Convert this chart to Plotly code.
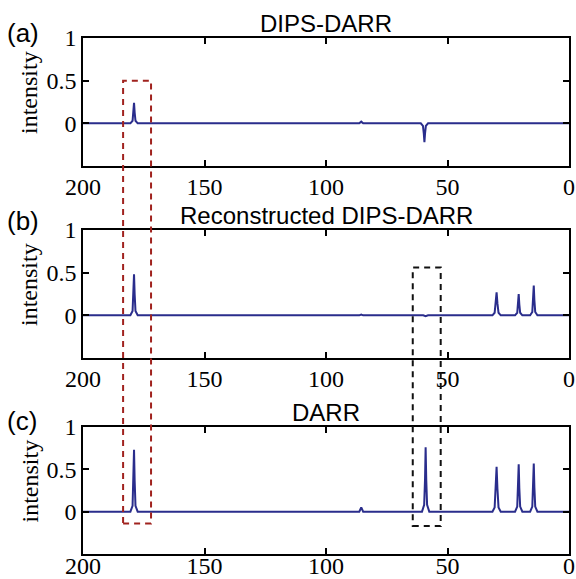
import plotly.graph_objects as go

# ---------------- data ----------------
panel_labels = ["(a)", "(b)", "(c)"]
panel_titles = ["DIPS-DARR", "Reconstructed DIPS-DARR", "DARR"]

x_a = [200, 180.5, 179.6, 179.25, 179, 178.75, 178.4, 177.5, 86.3, 85.5, 84.7,
       61, 60.1, 59.75, 59.5, 59.25, 58.9, 58, 0]
y_a = [0, 0, 0.03, 0.13, 0.24, 0.13, 0.03, 0, 0, 0.02, 0,
       0, -0.03, -0.12, -0.22, -0.12, -0.03, 0, 0]

x_b = [200, 180.5, 179.6, 179.25, 179, 178.75, 178.4, 177.5, 86.3, 85.5, 84.7,
       60, 59, 58,
       31.5, 30.6, 30.15, 29.8, 29.45, 29.0, 28.1,
       22.2, 21.3, 20.95, 20.7, 20.45, 20.1, 19.2,
       16, 15.1, 14.75, 14.5, 14.25, 13.9, 13, 0]
y_b = [0, 0, 0.05, 0.25, 0.48, 0.25, 0.05, 0, 0, 0.01, 0,
       0, -0.01, 0,
       0, 0.03, 0.14, 0.27, 0.14, 0.03, 0,
       0, 0.03, 0.13, 0.25, 0.13, 0.03, 0,
       0, 0.04, 0.18, 0.35, 0.18, 0.04, 0, 0]

x_c = [200, 180.5, 179.6, 179.25, 179, 178.75, 178.4, 177.5, 86.3, 85.5, 84.7,
       60.5, 59.6, 59.25, 59, 58.75, 58.4, 57.5,
       31.5, 30.6, 30.15, 29.8, 29.45, 29.0, 28.1,
       22.2, 21.3, 20.95, 20.7, 20.45, 20.1, 19.2,
       16, 15.1, 14.75, 14.5, 14.25, 13.9, 13, 0]
y_c = [0, 0, 0.07, 0.37, 0.73, 0.37, 0.07, 0, 0, 0.05, 0,
       0, 0.08, 0.38, 0.76, 0.38, 0.08, 0,
       0, 0.05, 0.27, 0.53, 0.27, 0.05, 0,
       0, 0.06, 0.28, 0.56, 0.28, 0.06, 0,
       0, 0.06, 0.29, 0.57, 0.29, 0.06, 0, 0]

x_ticks = [200, 150, 100, 50, 0]
x_ticktext = ["200", "150", "100", "50", "0"]
y_ticks = [0, 0.5, 1]
y_ticktext = ["0", "0.5", "1"]

# dashed boxes: ppm span, top value in its panel, bottom value in panel (c)
red_box_x = [183.5, 172.0]
red_box_y = [0.5, -0.14]      # top in (a), bottom in (c)
black_box_x = [64.3, 52.8]
black_box_y = [0.56, -0.17]   # top in (b), bottom in (c)

# ---------------- figure ----------------
W, H = 576, 579
ML, MR, MT, MB = 83, 7, 38, 25
plot_w = W - ML - MR
plot_h = H - MT - MB

def px_to_paper_y(py):
    return (H - MB - py) / plot_h

domains = [
    [px_to_paper_y(166), px_to_paper_y(38)],
    [px_to_paper_y(358), px_to_paper_y(230)],
    [px_to_paper_y(554), px_to_paper_y(427)],
]
YR = [-0.5, 1.0]

def val_to_paper(v, dom):
    return dom[0] + (v - YR[0]) / (YR[1] - YR[0]) * (dom[1] - dom[0])

line_color = "#2A2D8C"
fig = go.Figure()
xs = [x_a, x_b, x_c]
ys = [y_a, y_b, y_c]
serif = "Times New Roman, Liberation Serif, serif"
sans = "Arial, Liberation Sans, sans-serif"
x_standoff = [-2, -2, -11]

def serif_text(t):
    return '<span style="font-family:Times New Roman, Liberation Serif, serif">' + t + '</span>'

layout = dict(
    width=W, height=H,
    margin=dict(l=ML, r=MR, t=MT, b=MB, autoexpand=False),
    paper_bgcolor="white", plot_bgcolor="white",
    showlegend=False,
    font=dict(family=serif, size=24, color="black"),
)
for i in range(3):
    n = "" if i == 0 else str(i + 1)
    fig.add_trace(go.Scatter(x=xs[i], y=ys[i], mode="lines",
                             line=dict(color=line_color, width=2),
                             xaxis="x" + n, yaxis="y" + n, hoverinfo="skip"))
    layout["xaxis" + n] = dict(
        domain=[0, 1], anchor="y" + n, range=[200, 0], automargin=False,
        tickvals=x_ticks, ticktext=[serif_text(t) for t in x_ticktext],
        ticks="inside", ticklen=6, tickwidth=1.5, tickcolor="black",
        showline=True, linecolor="black", linewidth=1.5, mirror="ticks",
        showgrid=False, zeroline=False, ticklabelstandoff=x_standoff[i],
        tickfont=dict(family=serif, size=24, color="black"),
    )
    layout["yaxis" + n] = dict(
        domain=domains[i], anchor="x" + n, range=YR, automargin=False,
        tickvals=y_ticks, ticktext=[serif_text(t) for t in y_ticktext],
        ticks="inside", ticklen=6, tickwidth=1.5,
        tickcolor="black",
        showline=True, linecolor="black", linewidth=1.5, mirror="ticks",
        showgrid=False, zeroline=False,
        tickfont=dict(family=serif, size=24, color="black"),
    )
fig.update_layout(**layout)

annotations = []
label_tops = [20, 208, 408]
for i in range(3):
    dom = domains[i]
    annotations.append(dict(
        text=panel_titles[i], xref="paper", yref="paper", x=0.5, y=dom[1],
        xanchor="center", yanchor="bottom", yshift=-1, showarrow=False,
        font=dict(family=sans, size=24, color="black")))
    annotations.append(dict(
        text=panel_labels[i], xref="paper", yref="paper",
        x=(5 - ML) / plot_w, y=px_to_paper_y(label_tops[i] - 4),
        xanchor="left", yanchor="top", showarrow=False,
        font=dict(family=sans, size=26, color="black")))
    annotations.append(dict(
        text="intensity", xref="paper", yref="paper",
        x=(29 - ML) / plot_w, y=(dom[0] + dom[1]) / 2, yshift=9,
        xanchor="center", yanchor="middle", textangle=-90, showarrow=False,
        font=dict(family=serif, size=24, color="black")))
fig.update_layout(annotations=annotations)

shapes = [
    dict(type="rect", xref="x3", yref="paper",
         x0=red_box_x[0], x1=red_box_x[1],
         y0=val_to_paper(red_box_y[1], domains[2]), y1=val_to_paper(red_box_y[0], domains[0]),
         line=dict(color="#A0221E", width=2, dash="6px,5px")),
    dict(type="rect", xref="x3", yref="paper",
         x0=black_box_x[0], x1=black_box_x[1],
         y0=val_to_paper(black_box_y[1], domains[2]), y1=val_to_paper(black_box_y[0], domains[1]),
         line=dict(color="#111111", width=2, dash="6px,5px")),
]
fig.update_layout(shapes=shapes)

fig.write_html("out.html", config={"displayModeBar": False},
               post_script="document.body.style.margin='0';document.body.style.padding='0';")
